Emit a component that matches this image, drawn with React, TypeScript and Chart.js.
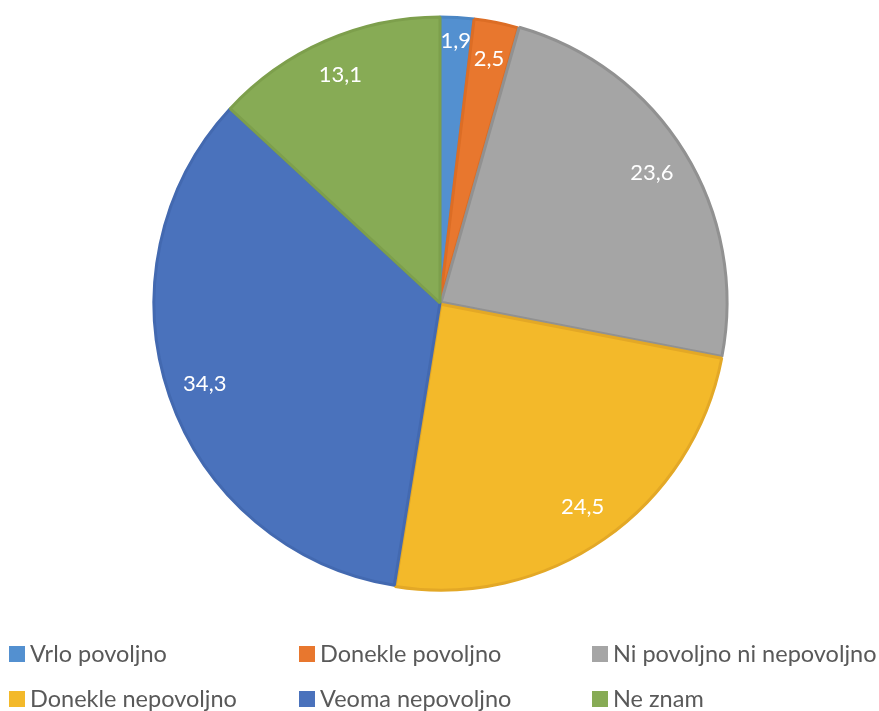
import React, { useEffect, useRef } from "react";
import { Chart, registerables } from "chart.js";

Chart.register(...registerables);

const categories = [
  "Vrlo povoljno",
  "Donekle povoljno",
  "Ni povoljno ni nepovoljno",
  "Donekle nepovoljno",
  "Veoma nepovoljno",
  "Ne znam",
];
const values = [1.9, 2.5, 23.6, 24.5, 34.3, 13.1];
const valueLabels = ["1,9", "2,5", "23,6", "24,5", "34,3", "13,1"];
const colors = ["#5390d0", "#e8772e", "#a5a5a5", "#f3b92a", "#4a72bc", "#87ab55"];
const borderColors = ["#4b86c4", "#dc6d25", "#919191", "#e3a826", "#4369b0", "#7d9f4c"];
const offsets = [0, 0, 5, 6, 0, 0];

const FONT = "Lato, 'Open Sans', sans-serif";

const labelPlugin = {
  id: "sliceLabels",
  afterDatasetsDraw(chart: any) {
    const ctx = chart.ctx;
    const meta = chart.getDatasetMeta(0);
    ctx.save();
    ctx.fillStyle = "#ffffff";
    ctx.font = `22px ${FONT}`;
    ctx.textAlign = "center";
    ctx.textBaseline = "middle";
    meta.data.forEach((arc: any, i: number) => {
      const { x, y, startAngle, endAngle, outerRadius } = arc.getProps(
        ["x", "y", "startAngle", "endAngle", "outerRadius"],
        true
      );
      const mid = (startAngle + endAngle) / 2;
      const r = outerRadius * 0.87 + (i === 0 ? 14 : 0);
      ctx.fillText(valueLabels[i], x + Math.cos(mid) * r, y + Math.sin(mid) * r);
    });
    ctx.restore();
  },
};

const legendPlugin = {
  id: "gridLegend",
  afterDraw(chart: any) {
    const ctx = chart.ctx;
    const colX = [9, 299, 592];
    const rowBase = [662, 707];
    ctx.save();
    ctx.font = `23.5px ${FONT}`;
    ctx.textBaseline = "alphabetic";
    ctx.textAlign = "left";
    chart.data.labels.forEach((lab: string, i: number) => {
      const cx = colX[i % 3];
      const by = rowBase[Math.floor(i / 3)];
      ctx.fillStyle = colors[i];
      ctx.fillRect(cx, by - 16, 16, 16);
      ctx.fillStyle = "#595959";
      ctx.fillText(lab, cx + 21, by);
    });
    ctx.restore();
  },
};

export default function App() {
  const ref = useRef<HTMLCanvasElement | null>(null);
  useEffect(() => {
    if (!ref.current) return;
    const chart = new Chart(ref.current, {
      type: "pie",
      data: {
        labels: categories,
        datasets: [
          {
            data: values,
            backgroundColor: colors,
            borderColor: borderColors,
            borderWidth: 3,
            offset: offsets,
          },
        ],
      },
      options: {
        animation: false,
        responsive: false,
        radius: 286,
        layout: { padding: { left: 1, right: 0, top: 0, bottom: 105 } },
        plugins: {
          legend: { display: false },
          tooltip: { enabled: false },
        },
      } as any,
      plugins: [labelPlugin, legendPlugin],
    });
    return () => chart.destroy();
  }, []);
  return (
    <div style={{ position: "fixed", left: 0, top: 0, width: 879, height: 711, background: "#fff" }}>
      <canvas ref={ref} width={879} height={711} style={{ width: 879, height: 711 }} />
    </div>
  );
}
